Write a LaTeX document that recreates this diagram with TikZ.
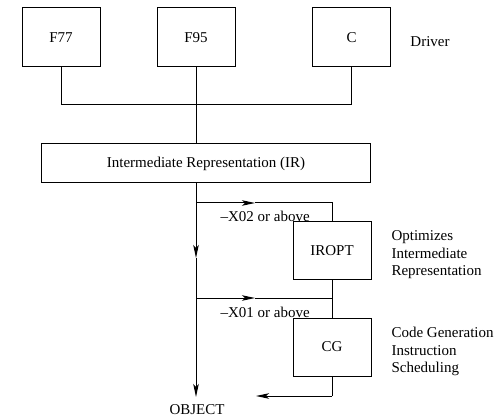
\documentclass[tikz,border=0pt]{standalone}
\usepackage{fontspec}
\setmainfont{Liberation Serif}
\usetikzlibrary{arrows.meta,positioning,calc}

\tikzset{
  box/.style={draw,line width=1pt,minimum width=78pt,minimum height=59pt,inner sep=0pt},
  flow/.style={line width=1pt},
  arr/.style={flow,-{Stealth[length=13pt,width=5.5pt,inset=3pt]}},
  lbl/.style={font=\rmfamily\fontsize{15}{17.5}\selectfont}
}

\begin{document}
\begin{tikzpicture}[x=1pt,y=-1pt,every node/.style={lbl}]
    \useasboundingbox (0,0) rectangle (502,419);

    % front ends
    \node[box] (f77) at (61,37.5) {F77};
    \node[box] (f95) at (196,37.5) {F95};
    \node[box] (c) at (351.5,37.5) {C};
    \node (driver) at (430,42) {Driver};

    % IR
    \node[box,minimum width=329pt,minimum height=39pt] (ir) at (206,163.5) {Intermediate Representation (IR)};
    \coordinate (bus) at (196,105);
    \draw[flow] (f77.south) |- (bus);
    \draw[flow] (bus) -| (c.south);
    \draw[flow] (f95.south) -- (f95 |- ir.north);

    % back end
    \node[box,minimum height=57pt] (iropt) at (332,250.5) {IROPT};
    \node[box,minimum height=58pt] (cg) at (332,347) {CG};

    \coordinate (j1) at (196,203);
    \coordinate (m1) at (255,203);
    \coordinate (j2) at (196,298);
    \coordinate (m2) at (255,298);
    \coordinate (k2) at (332,298);
    \coordinate (dn) at (196,258);
    \coordinate (obj) at (196,397);
    \coordinate (k3) at (332,396);
    \coordinate (back) at (256,396);

    % main line
    \draw[arr] (f95 |- ir.south) -- (dn);
    \draw[flow] (dn) -- (j2);
    \draw[arr] (j2) -- (obj);

    % optimizer branch
    \draw[arr] (j1) -- (m1);
    \draw[flow] (m1) -| (iropt.north);
    \draw[flow] (iropt.south) -- (k2);
    \draw[arr] (j2) -- (m2);
    \draw[flow] (m2) -| (cg.north);
    \draw[flow] (cg.south) |- (k3);
    \draw[arr] (k3) -- (back);

    % labels
    \node[anchor=base west] (o2) at (217,221.5) {–X02 or above};
    \node[anchor=base west] (o1) at (217,317.5) {–X01 or above};
    \node[anchor=west,align=left] (optx) at (388,255) {Optimizes\\Intermediate\\Representation};
    \node[anchor=west,align=left] (cgx) at (388,351.5) {Code Generation\\Instruction\\Scheduling};
    \node (object) at (197,410) {OBJECT};
\end{tikzpicture}
\end{document}
